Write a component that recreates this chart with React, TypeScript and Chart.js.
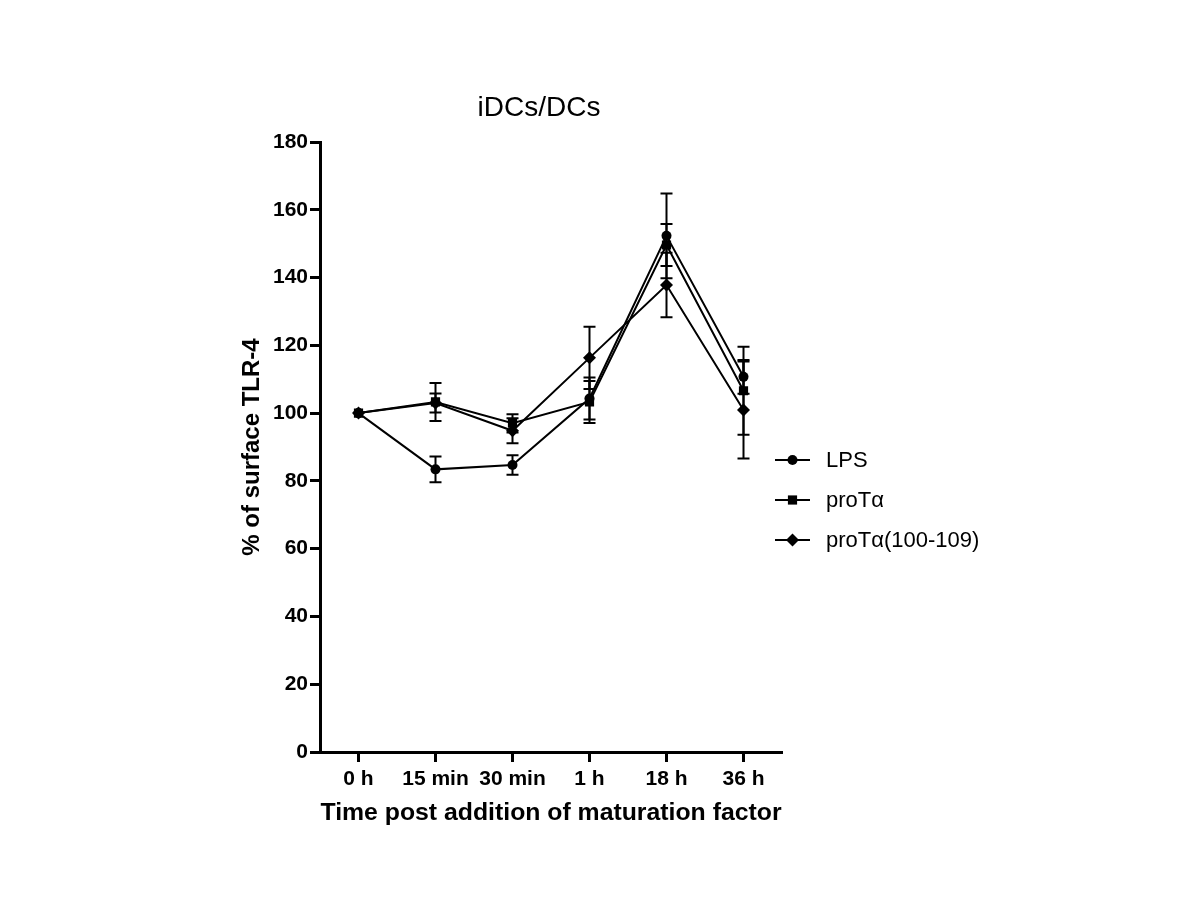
import React, { useEffect, useRef } from "react";
import { Chart, registerables } from "chart.js";

Chart.register(...registerables);

const categories = ["0 h", "15 min", "30 min", "1 h", "18 h", "36 h"];
const seriesNames = ["LPS", "proTα", "proTα(100-109)"];
const lpsValues = [100, 83.4, 84.7, 104.3, 152.3, 110.7];
const lpsErrors = [0, 3.8, 2.9, 6.2, 12.5, 5.0];
const protValues = [100, 103.3, 97.0, 103.3, 149.6, 106.6];
const protErrors = [0, 5.6, 2.7, 6.2, 6.2, 13.0];
const protFragValues = [100, 103.0, 94.8, 116.3, 137.8, 100.9];
const protFragErrors = [0, 2.8, 3.7, 9.2, 9.5, 14.3];
const yMin = 0;
const yMax = 180;
const yStep = 20;
const chartTitle = "iDCs/DCs";
const yTitle = "% of surface TLR-4";
const xTitle = "Time post addition of maturation factor";

const FONT = "'Liberation Sans', Arial, Helvetica, sans-serif";
const pointStyles = ["circle", "rect", "rectRot"];
const pointRadii = [5, 6.5, 6.5];
const errorSets = [lpsErrors, protErrors, protFragErrors];

function drawMarker(ctx: CanvasRenderingContext2D, style: string, x: number, y: number, r: number) {
  ctx.beginPath();
  if (style === "circle") {
    ctx.arc(x, y, r, 0, Math.PI * 2);
  } else if (style === "rect") {
    const s = Math.SQRT1_2 * r;
    ctx.rect(x - s, y - s, 2 * s, 2 * s);
  } else {
    ctx.moveTo(x, y - r);
    ctx.lineTo(x + r, y);
    ctx.lineTo(x, y + r);
    ctx.lineTo(x - r, y);
    ctx.closePath();
  }
  ctx.fill();
}

const errorBarPlugin = {
  id: "errorBars",
  beforeDatasetsDraw(chart: any) {
    const ctx = chart.ctx as CanvasRenderingContext2D;
    const yScale = chart.scales.y;
    ctx.save();
    ctx.strokeStyle = "#000";
    ctx.lineWidth = 2;
    chart.data.datasets.forEach((ds: any, di: number) => {
      const meta = chart.getDatasetMeta(di);
      const errs = errorSets[di];
      meta.data.forEach((pt: any, i: number) => {
        const e = errs[i];
        if (!e) return;
        const v = ds.data[i];
        const yTop = yScale.getPixelForValue(v + e);
        const yBot = yScale.getPixelForValue(v - e);
        const x = pt.x;
        const cw = 6;
        ctx.beginPath();
        ctx.moveTo(x, yTop);
        ctx.lineTo(x, yBot);
        ctx.moveTo(x - cw, yTop);
        ctx.lineTo(x + cw, yTop);
        ctx.moveTo(x - cw, yBot);
        ctx.lineTo(x + cw, yBot);
        ctx.stroke();
      });
    });
    ctx.restore();
  },
};

const decorPlugin = {
  id: "decor",
  afterDraw(chart: any) {
    const ctx = chart.ctx as CanvasRenderingContext2D;
    ctx.save();
    ctx.fillStyle = "#000";
    ctx.font = `28px ${FONT}`;
    ctx.textAlign = "center";
    ctx.textBaseline = "middle";
    ctx.fillText(chartTitle, 539, 108);
    const rows = [460, 500, 540];
    ctx.font = `22px ${FONT}`;
    ctx.textAlign = "left";
    ctx.strokeStyle = "#000";
    ctx.lineWidth = 2;
    seriesNames.forEach((name, i) => {
      const y = rows[i];
      ctx.beginPath();
      ctx.moveTo(775, y);
      ctx.lineTo(810, y);
      ctx.stroke();
      drawMarker(ctx, pointStyles[i], 792.5, y, pointRadii[i]);
      ctx.fillText(name, 826, y + 1);
    });
    ctx.restore();
  },
};

export default function App() {
  const canvasRef = useRef<HTMLCanvasElement | null>(null);

  useEffect(() => {
    if (!canvasRef.current) return;
    const valueSets = [lpsValues, protValues, protFragValues];
    const chart = new Chart(canvasRef.current, {
      type: "line",
      data: {
        labels: categories,
        datasets: seriesNames.map((name, i) => ({
          label: name,
          data: valueSets[i],
          borderColor: "#000",
          backgroundColor: "#000",
          pointBackgroundColor: "#000",
          pointBorderColor: "#000",
          pointBorderWidth: 0,
          borderWidth: 2,
          pointStyle: pointStyles[i] as any,
          pointRadius: pointRadii[i],
          tension: 0,
          fill: false,
        })),
      },
      options: {
        responsive: false,
        animation: false,
        devicePixelRatio: 1,
        layout: { padding: { left: 230, right: 418, top: 142, bottom: 68 } },
        plugins: {
          legend: { display: false },
          title: { display: false },
          tooltip: { enabled: false },
        },
        scales: {
          x: {
            type: "category",
            offset: true,
            grid: {
              display: true,
              drawOnChartArea: false,
              drawTicks: true,
              tickLength: 10,
              tickWidth: 3,
              tickColor: "#000",
              offset: false,
            },
            border: { display: true, color: "#000", width: 3 },
            ticks: {
              color: "#000",
              font: { family: FONT, size: 21, weight: "bold" },
              padding: 5,
              maxRotation: 0,
              autoSkip: false,
            },
            title: {
              display: true,
              text: xTitle,
              color: "#000",
              font: { family: FONT, size: 24.8, weight: "bold" },
              padding: { top: 0, bottom: 4 },
            },
            afterFit: (s: any) => {
              s.height = 80;
            },
          },
          y: {
            min: yMin,
            max: yMax,
            grid: {
              display: true,
              drawOnChartArea: false,
              drawTicks: true,
              tickLength: 10,
              tickWidth: 3,
              tickColor: "#000",
            },
            border: { display: true, color: "#000", width: 3 },
            ticks: {
              stepSize: yStep,
              color: "#000",
              font: { family: FONT, size: 21, weight: "bold" },
              padding: 2,
            },
            title: {
              display: true,
              text: yTitle,
              color: "#000",
              font: { family: FONT, size: 24, weight: "bold" },
              padding: { top: 8, bottom: 0 },
            },
            afterFit: (s: any) => {
              s.width = 90;
            },
          },
        },
      },
      plugins: [errorBarPlugin, decorPlugin],
    } as any);
    return () => chart.destroy();
  }, []);

  return (
    <div style={{ position: "absolute", left: 0, top: 0, width: 1200, height: 900, background: "#fff" }}>
      <canvas ref={canvasRef} width={1200} height={900} style={{ display: "block", width: 1200, height: 900 }} />
    </div>
  );
}
